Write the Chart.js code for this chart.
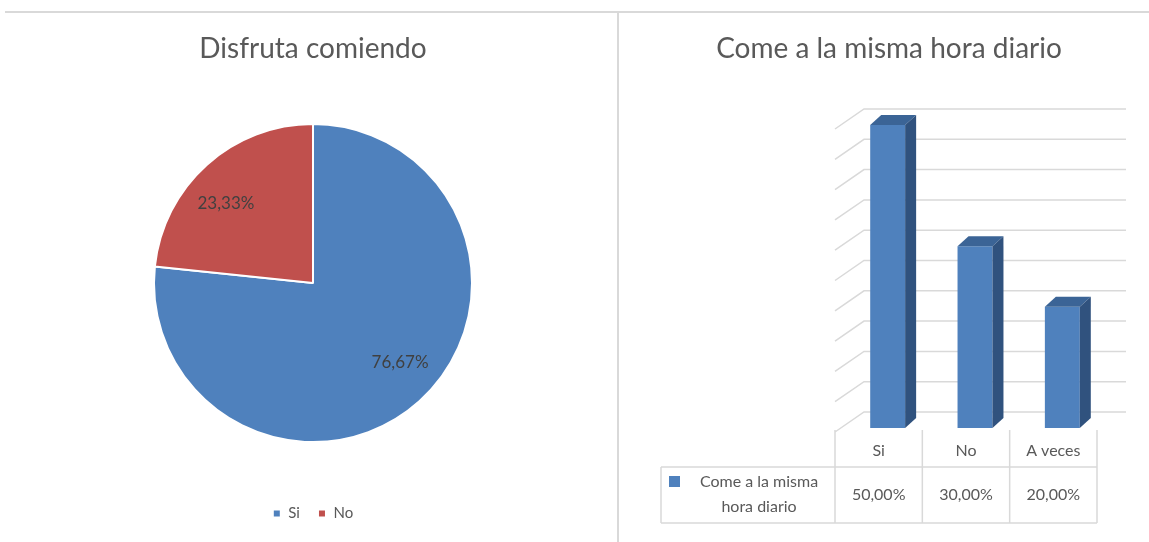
<!DOCTYPE html>
<html>
<head>
<meta charset="utf-8">
<title>Encuesta de hábitos alimenticios</title>
<script src="https://cdn.jsdelivr.net/npm/chart.js@4"></script>
<style>
  body { margin: 0; background: #fff; width: 1149px; height: 542px; position: relative; overflow: hidden; }
  .rule-top { position: absolute; left: 5px; top: 11px; width: 1144px; height: 2px; background: #d9d9d9; }
  .rule-mid { position: absolute; left: 617px; top: 12px; width: 2px; height: 530px; background: #d9d9d9; }
  #pieChart { position: absolute; left: 0; top: 12px; }
  #barChart { position: absolute; left: 620px; top: 12px; }
</style>
</head>
<body>
<div class="rule-top"></div>
<div class="rule-mid"></div>
<canvas id="pieChart" width="617" height="530"></canvas>
<canvas id="barChart" width="529" height="530"></canvas>

<script>
// Disfruta comiendo
const pieTitle = 'Disfruta comiendo';
const pieLabels = ['Si', 'No'];
const pieValues = [76.67, 23.33];

// Come a la misma hora diario
const barTitle = 'Come a la misma hora diario';
const barSeries = 'Come a la misma hora diario';
const barLabels = ['Si', 'No', 'A veces'];
const barValues = [50, 30, 20];
const barMax = 50;
const barStep = 5;

const BLUE = '#4f81bd';
const RED = '#c0504d';
const TEXT = '#595959';
const GRID = '#d9d9d9';

Chart.defaults.font.family = 'Lato, sans-serif';
Chart.defaults.color = TEXT;
Chart.defaults.animation = false;

function pct(v) {
  return v.toFixed(2).replace('.', ',') + '%';
}

// value labels inside each slice
const sliceLabels = {
  id: 'sliceLabels',
  afterDatasetsDraw(chart) {
    const ctx = chart.ctx;
    const meta = chart.getDatasetMeta(0);
    ctx.save();
    ctx.font = '17px Lato, sans-serif';
    ctx.fillStyle = '#404040';
    ctx.textAlign = 'center';
    ctx.textBaseline = 'middle';
    meta.data.forEach((arc, i) => {
      const p = arc.getProps(['x', 'y', 'startAngle', 'endAngle', 'outerRadius'], true);
      const mid = (p.startAngle + p.endAngle) / 2 - 0.1;
      const r = p.outerRadius * 0.74;
      ctx.fillText(pct(pieValues[i]), p.x + Math.cos(mid) * r, p.y + Math.sin(mid) * r);
    });
    ctx.restore();
  }
};

new Chart(document.getElementById('pieChart'), {
  type: 'pie',
  data: {
    labels: pieLabels,
    datasets: [{
      data: pieValues,
      backgroundColor: [BLUE, RED],
      borderColor: '#fff',
      borderWidth: 2,
      radius: 159
    }]
  },
  options: {
    responsive: false,
    layout: { padding: { left: 9, bottom: 11 } },
    plugins: {
      title: {
        display: true,
        text: pieTitle,
        color: TEXT,
        font: { size: 28, weight: 'normal' },
        padding: { top: 20, bottom: 12.6 }
      },
      legend: {
        position: 'bottom',
        labels: { boxWidth: 8, boxHeight: 8, padding: 18, color: TEXT, font: { size: 15 } }
      },
      tooltip: { enabled: false }
    }
  },
  plugins: [sliceLabels]
});

// 3D look: back wall grid, bar sides, and the data table under the floor
const DX = 11, DY = -10;          // bar depth
const WALL_X = 20, WALL_Y = -16;  // back wall relative to bar plane
const FLOOR_X = -9, FLOOR_Y = 4;  // floor front edge relative to bar plane
const TABLE_LEFT = 41;

function poly(ctx, pts) {
  ctx.beginPath();
  ctx.moveTo(pts[0][0], pts[0][1]);
  for (let i = 1; i < pts.length; i++) ctx.lineTo(pts[i][0], pts[i][1]);
  ctx.closePath();
  ctx.fill();
}

function wrap(ctx, text, maxWidth) {
  const words = text.split(' ');
  const lines = [];
  let line = '';
  words.forEach(w => {
    const test = line ? line + ' ' + w : w;
    if (line && ctx.measureText(test).width > maxWidth) {
      lines.push(line);
      line = w;
    } else {
      line = test;
    }
  });
  if (line) lines.push(line);
  return lines;
}

const bar3d = {
  id: 'bar3d',
  beforeDatasetsDraw(chart) {
    const ctx = chart.ctx;
    const y = chart.scales.y;
    const { left, right } = chart.chartArea;
    ctx.save();
    ctx.strokeStyle = GRID;
    ctx.lineWidth = 1.5;
    for (let v = 0; v <= barMax; v += barStep) {
      const py = y.getPixelForValue(v);
      ctx.beginPath();
      ctx.moveTo(left + FLOOR_X, py + FLOOR_Y);
      ctx.lineTo(left + WALL_X, py + WALL_Y);
      ctx.lineTo(right + WALL_X, py + WALL_Y);
      ctx.stroke();
    }
    ctx.restore();
  },
  afterDatasetsDraw(chart) {
    const ctx = chart.ctx;
    const meta = chart.getDatasetMeta(0);
    ctx.save();
    meta.data.forEach(bar => {
      const p = bar.getProps(['x', 'y', 'base', 'width'], true);
      const l = p.x - p.width / 2, r = p.x + p.width / 2;
      ctx.fillStyle = '#3b6496';
      poly(ctx, [[l, p.y], [l + DX, p.y + DY], [r + DX, p.y + DY], [r, p.y]]);
      ctx.fillStyle = '#30527e';
      poly(ctx, [[r, p.y], [r + DX, p.y + DY], [r + DX, p.base + DY], [r, p.base]]);
    });
    ctx.restore();
  },
  afterDraw(chart) {
    const ctx = chart.ctx;
    const x = chart.scales.x;
    const { left, right, bottom } = chart.chartArea;
    const cw = (right - left) / barLabels.length;
    const y0 = bottom + FLOOR_Y - 2;
    const y1 = y0 + 37;
    const y2 = y1 + 56;
    const edges = [];
    for (let i = 0; i < barLabels.length; i++) edges.push(x.getPixelForValue(i) - cw / 2 + FLOOR_X);
    edges.push(edges[edges.length - 1] + cw);
    const tableRight = edges[edges.length - 1];

    ctx.save();
    ctx.strokeStyle = GRID;
    ctx.lineWidth = 1.5;
    ctx.beginPath();
    edges.forEach(ex => { ctx.moveTo(ex, y0); ctx.lineTo(ex, y2); });
    ctx.moveTo(TABLE_LEFT, y1); ctx.lineTo(TABLE_LEFT, y2);
    ctx.moveTo(TABLE_LEFT, y1); ctx.lineTo(tableRight, y1);
    ctx.moveTo(TABLE_LEFT, y2); ctx.lineTo(tableRight, y2);
    ctx.stroke();

    ctx.font = '16px Lato, sans-serif';
    ctx.fillStyle = TEXT;
    ctx.textAlign = 'center';
    ctx.textBaseline = 'middle';
    barLabels.forEach((lab, i) => {
      const cx = (edges[i] + edges[i + 1]) / 2;
      ctx.fillText(lab, cx, y0 + 21);
      ctx.fillText(pct(barValues[i]), cx, (y1 + y2) / 2);
    });

    // series key and name in the row header
    ctx.fillStyle = BLUE;
    ctx.fillRect(TABLE_LEFT + 8, y1 + 9, 11, 11);
    ctx.fillStyle = TEXT;
    const lines = wrap(ctx, barSeries, 140);
    const nameX = (TABLE_LEFT + 22 + edges[0]) / 2;
    lines.forEach((ln, k) => ctx.fillText(ln, nameX, y1 + 15 + k * 25));
    ctx.restore();
  }
};

const hidden = { ticks: { display: false }, grid: { display: false }, border: { display: false } };

new Chart(document.getElementById('barChart'), {
  type: 'bar',
  data: {
    labels: barLabels,
    datasets: [{
      label: barSeries,
      data: barValues,
      backgroundColor: BLUE,
      borderWidth: 0,
      barPercentage: 0.4,
      categoryPercentage: 1
    }]
  },
  options: {
    responsive: false,
    layout: { padding: { left: 9 } },
    scales: {
      x: { ...hidden, afterFit: s => { s.height = 114; } },
      y: { ...hidden, min: 0, max: barMax, afterFit: s => { s.width = 215; } },
      y2: { ...hidden, position: 'right', afterFit: s => { s.width = 43; } }
    },
    plugins: {
      title: {
        display: true,
        text: barTitle,
        color: TEXT,
        font: { size: 28, weight: 'normal' },
        padding: { top: 20, bottom: 59.4 }
      },
      legend: { display: false },
      tooltip: { enabled: false }
    }
  },
  plugins: [bar3d]
});
</script>
</body>
</html>
